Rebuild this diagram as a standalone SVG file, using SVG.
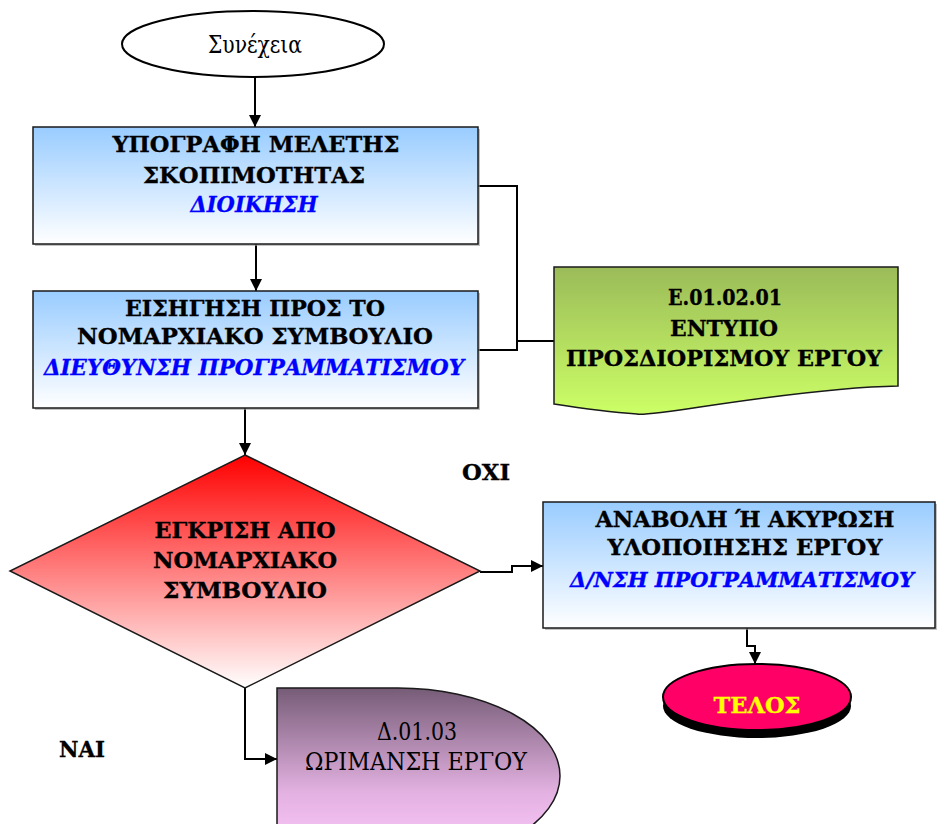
<svg xmlns="http://www.w3.org/2000/svg" width="938" height="824" viewBox="0 0 938 824">
  <defs>
    <linearGradient id="gBlue" x1="0" y1="0" x2="0" y2="1">
      <stop offset="0" stop-color="#99CCFF"/>
      <stop offset="1" stop-color="#FFFFFF"/>
    </linearGradient>
    <linearGradient id="gGreen" x1="0" y1="0" x2="0" y2="1">
      <stop offset="0" stop-color="#9BBB59"/>
      <stop offset="1" stop-color="#CCFF66"/>
    </linearGradient>
    <linearGradient id="gRed" x1="0" y1="0" x2="0" y2="1">
      <stop offset="0" stop-color="#FF0000"/>
      <stop offset="1" stop-color="#FFFFFF"/>
    </linearGradient>
    <linearGradient id="gPurple" x1="0" y1="0" x2="0" y2="1">
      <stop offset="0" stop-color="#765C77"/>
      <stop offset="0.6" stop-color="#E4B2E2"/>
      <stop offset="1" stop-color="#FFCCFF"/>
    </linearGradient>
    <marker id="arrow" viewBox="0 0 12 12" refX="12" refY="6" markerWidth="12" markerHeight="12" markerUnits="userSpaceOnUse" orient="auto">
      <path d="M0,0 L12,6 L0,12 Z" fill="#000"/>
    </marker>
  </defs>
  <style>
    .t { font-family: "DejaVu Serif", "Liberation Serif", serif; text-anchor: middle; }
    .b { font-weight: bold; font-size: 23px; fill: #000; stroke: #000; stroke-width: 0.35; }
    .i { font-weight: bold; font-style: italic; font-size: 23px; fill: #0000FF; stroke: #0000FF; stroke-width: 0.35; }
    .r { font-size: 24px; fill: #000; }
    .box { stroke: #1a1a1a; stroke-width: 1.5; }
    .shadow { fill: #9a9a9a; opacity: 0.6; }
    .edge { fill: none; stroke: #000; stroke-width: 2; }
  </style>

  <rect width="938" height="824" fill="#FFFFFF"/>

  <!-- connectors -->
  <g id="connectors">
    <path class="edge" d="M255,77 V127" marker-end="url(#arrow)"/>
    <path class="edge" d="M256,244 V291" marker-end="url(#arrow)"/>
    <path class="edge" d="M478,186 H517 V350 H478"/>
    <path class="edge" d="M517,341 H555"/>
    <path class="edge" d="M245,408 V455" marker-end="url(#arrow)"/>
    <path class="edge" d="M480,572 H512 V566 H543" marker-end="url(#arrow)"/>
    <path class="edge" d="M747,628 V646 H755 V664" marker-end="url(#arrow)"/>
    <path class="edge" d="M245,688 V759 H277" marker-end="url(#arrow)"/>
  </g>

  <!-- start terminator -->
  <g id="start">
    <ellipse cx="253" cy="44" rx="131" ry="33" fill="#FFFFFF" stroke="#000" stroke-width="2"/>
    <text class="t r" x="255" y="53" textLength="94" lengthAdjust="spacingAndGlyphs">Συνέχεια</text>
  </g>

  <!-- signature of feasibility study -->
  <g id="signature">
    <rect class="shadow" x="35" y="129" width="445" height="117"/>
    <rect class="box" x="33" y="127" width="445" height="117" fill="url(#gBlue)"/>
    <text class="t b" x="256" y="152" textLength="287" lengthAdjust="spacingAndGlyphs">ΥΠΟΓΡΑΦΗ ΜΕΛΕΤΗΣ</text>
    <text class="t b" x="254" y="183" textLength="222" lengthAdjust="spacingAndGlyphs">ΣΚΟΠΙΜΟΤΗΤΑΣ</text>
    <text class="t i" x="254" y="212" textLength="127" lengthAdjust="spacingAndGlyphs">ΔΙΟΙΚΗΣΗ</text>
  </g>

  <!-- proposal to the prefectural council -->
  <g id="proposal">
    <rect class="shadow" x="35" y="293" width="445" height="117"/>
    <rect class="box" x="33" y="291" width="445" height="117" fill="url(#gBlue)"/>
    <text class="t b" x="255" y="316" textLength="260" lengthAdjust="spacingAndGlyphs">ΕΙΣΗΓΗΣΗ ΠΡΟΣ ΤΟ</text>
    <text class="t b" x="255" y="344" textLength="356" lengthAdjust="spacingAndGlyphs">ΝΟΜΑΡΧΙΑΚΟ ΣΥΜΒΟΥΛΙΟ</text>
    <text class="t i" x="254" y="375" textLength="420" lengthAdjust="spacingAndGlyphs">ΔΙΕΥΘΥΝΣΗ ΠΡΟΓΡΑΜΜΑΤΙΣΜΟΥ</text>
  </g>

  <!-- document: project definition form -->
  <g id="form">
    <path class="box" d="M554,267 H898 V386 C840,387 760,398 700,407 C660,413 640,415 637,414 C610,412 580,408 554,404 Z" fill="url(#gGreen)"/>
    <text class="t b" x="725" y="305" textLength="114" lengthAdjust="spacingAndGlyphs">Ε.01.02.01</text>
    <text class="t b" x="724" y="336" textLength="108" lengthAdjust="spacingAndGlyphs">ΕΝΤΥΠΟ</text>
    <text class="t b" x="724" y="366" textLength="316" lengthAdjust="spacingAndGlyphs">ΠΡΟΣΔΙΟΡΙΣΜΟΥ ΕΡΓΟΥ</text>
  </g>

  <!-- decision -->
  <g id="decision">
    <path class="box" d="M245,455 L480,571 L245,688 L10,571 Z" fill="url(#gRed)" stroke-width="2"/>
    <text class="t b" x="245" y="538" textLength="181" lengthAdjust="spacingAndGlyphs">ΕΓΚΡΙΣΗ ΑΠΟ</text>
    <text class="t b" x="245" y="568" textLength="184" lengthAdjust="spacingAndGlyphs">ΝΟΜΑΡΧΙΑΚΟ</text>
    <text class="t b" x="245" y="598" textLength="164" lengthAdjust="spacingAndGlyphs">ΣΥΜΒΟΥΛΙΟ</text>
  </g>

  <g id="label-no">
    <text class="t b" x="486" y="480" textLength="48" lengthAdjust="spacingAndGlyphs">ΟΧΙ</text>
  </g>
  <g id="label-yes">
    <text class="t b" x="82" y="757" textLength="46" lengthAdjust="spacingAndGlyphs">ΝΑΙ</text>
  </g>

  <!-- postponement or cancellation -->
  <g id="postpone">
    <rect class="shadow" x="545" y="504" width="392" height="126"/>
    <rect class="box" x="543" y="502" width="392" height="126" fill="url(#gBlue)"/>
    <text class="t b" x="745" y="527" textLength="299" lengthAdjust="spacingAndGlyphs">ΑΝΑΒΟΛΗ Ή ΑΚΥΡΩΣΗ</text>
    <text class="t b" x="745" y="555" textLength="275" lengthAdjust="spacingAndGlyphs">ΥΛΟΠΟΙΗΣΗΣ ΕΡΓΟΥ</text>
    <text class="t i" x="742" y="587" textLength="344" lengthAdjust="spacingAndGlyphs" style="font-size:21px">Δ/ΝΣΗ ΠΡΟΓΡΑΜΜΑΤΙΣΜΟΥ</text>
  </g>

  <!-- end terminator -->
  <g id="end">
    <ellipse cx="757" cy="706" rx="94" ry="32" fill="#000"/>
    <ellipse cx="757" cy="697" rx="94" ry="33" fill="#FF0066" stroke="#000" stroke-width="2"/>
    <text class="t b" x="757" y="713" textLength="87" lengthAdjust="spacingAndGlyphs" style="fill:#FFFF00;stroke:#FFFF00">ΤΕΛΟΣ</text>
  </g>

  <!-- project maturation (delay shape) -->
  <g id="maturation">
    <path class="box" d="M277,688 H398 A162,88 0 0 1 398,864 H277 Z" fill="url(#gPurple)" stroke-width="2"/>
    <text class="t r" x="417" y="740" textLength="80" lengthAdjust="spacingAndGlyphs">Δ.01.03</text>
    <text class="t r" x="416" y="770" textLength="222" lengthAdjust="spacingAndGlyphs">ΩΡΙΜΑΝΣΗ ΕΡΓΟΥ</text>
  </g>
</svg>
